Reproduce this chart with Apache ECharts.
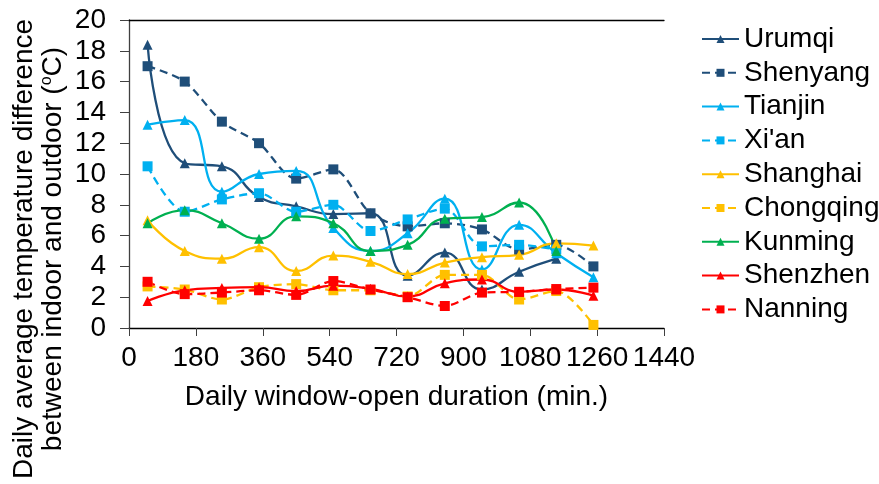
<!DOCTYPE html>
<html><head><meta charset="utf-8">
<script src="https://cdn.jsdelivr.net/npm/echarts@6/dist/echarts.min.js"></script>
<style>html,body{margin:0;padding:0;background:#fff}#c{width:879px;height:484px}</style>
</head><body><div id="c"></div>
<script>
var xs = [50,150,250,350,450,550,650,750,850,950,1050,1150,1250];
var xTicks = ['0','180','360','540','720','900','1080','1260','1440'];
var cities = ['Urumqi','Shenyang','Tianjin',"Xi'an",'Shanghai','Chongqing','Kunming','Shenzhen','Nanning'];
var urumqi    = [18.4,10.7,10.5,8.5,7.9,7.4,7.45,3.4,4.9,2.5,3.65,4.5];
var shenyang  = [17.0,16.0,13.4,12.0,9.7,10.3,7.45,6.6,6.8,6.4,5.1,5.4,4.0];
var tianjin   = [13.2,13.5,8.85,10.0,10.2,6.5,5.0,6.15,8.4,3.8,6.7,4.85,3.3];
var xian      = [10.5,7.55,8.35,8.75,7.55,8.0,6.3,7.05,7.75,5.3,5.4,5.1];
var shanghai  = [7.0,5.0,4.5,5.25,3.7,4.7,4.3,3.5,4.25,4.6,4.75,5.5,5.35];
var chongqing = [2.7,2.5,1.85,2.65,2.85,2.45,2.45,2.05,3.45,3.45,1.85,2.4,0.2];
var kunming   = [6.8,7.65,6.8,5.8,7.25,6.8,5.0,5.4,7.1,7.2,8.15,5.0];
var shenzhen  = [1.75,2.45,2.6,2.65,2.4,2.75,2.55,2.05,2.9,3.15,2.35,2.5,2.1];
var nanning   = [3.0,2.2,2.3,2.45,2.15,3.05,2.5,2.0,1.43,2.3,2.35,2.53,2.62];

var seriesValues = [urumqi,shenyang,tianjin,xian,shanghai,chongqing,kunming,shenzhen,nanning];
var colors = ['#1F4E79','#1F4E79','#00B0F0','#00B0F0','#FFC000','#FFC000','#00B050','#FF0000','#FF0000'];
var dashed = [false,true,false,true,false,true,false,false,true];
var FONT = '"Liberation Sans", Arial, sans-serif';
var FS = 28;

function pairs(v){ return v.map(function(y,i){ return [xs[i], y]; }); }

var series = cities.map(function(name, k){
  var d = dashed[k];
  return {
    name: name, type: 'line', data: pairs(seriesValues[k]),
    smooth: d ? 0.3 : 0.5,
    symbol: d ? 'rect' : 'triangle',
    symbolSize: 10,
    itemStyle: { color: colors[k] },
    lineStyle: { color: colors[k], width: 2.3, type: d ? [8,5] : 'solid' },
    emphasis: { disabled: true },
    animation: false
  };
});

var chart = echarts.init(document.getElementById('c'), null, {renderer:'canvas'});
chart.setOption({
  backgroundColor: '#fff',
  animation: false,
  grid: { left: 129, right: 215, top: 20, bottom: 156, containLabel: false },
  legend: {
    orient: 'vertical', left: 701, top: 25, padding: 0,
    itemWidth: 37, itemHeight: 10, itemGap: 5.8,
    textStyle: { fontFamily: FONT, fontSize: FS, color: '#000', lineHeight: 28 },
    data: cities
  },
  xAxis: [{
    type: 'value', min: 0, max: 1440, interval: 180,
    axisLine: { show: true, lineStyle: { color: '#000', width: 1.3 } },
    axisTick: { show: true, length: 8, lineStyle: { color: '#404040' } },
    axisLabel: { fontFamily: FONT, fontSize: FS, color: '#000', margin: 16,
      formatter: function(v){ var i = Math.round(v/180); return xTicks[i] !== undefined ? xTicks[i] : ''; } },
    splitLine: { show: false },
    name: 'Daily window-open duration (min.)', nameLocation: 'middle', nameGap: 55,
    nameTextStyle: { fontFamily: FONT, fontSize: FS, color: '#000', verticalAlign: 'top' }
  },{
    type: 'value', min: 0, max: 1440, position: 'top',
    axisLine: { show: true, lineStyle: { color: '#000', width: 1.3 } },
    axisTick: { show: false }, axisLabel: { show: false }, splitLine: { show: false }
  }],
  yAxis: {
    type: 'value', min: 0, max: 20, interval: 2,
    axisLine: { show: true, lineStyle: { color: '#404040', width: 1.3 } },
    axisTick: { show: true, length: 9, lineStyle: { color: '#404040' } },
    axisLabel: { fontFamily: FONT, fontSize: FS, color: '#000', margin: 23 },
    splitLine: { show: false }
  },
  graphic: [{
    type: 'text', x: 39, y: 249, rotation: Math.PI/2,
    style: {
      text: 'Daily average temperature difference\nbetween indoor and outdoor ({s|o}C)',
      fontFamily: FONT, fontSize: FS, fill: '#000', lineHeight: 29,
      align: 'center', verticalAlign: 'middle',
      rich: { s: { fontFamily: FONT, fontSize: 16, fill: '#000', verticalAlign: 'top', lineHeight: 29, padding: [0,0,10,0] } }
    }
  }],
  series: series
});
</script></body></html>
